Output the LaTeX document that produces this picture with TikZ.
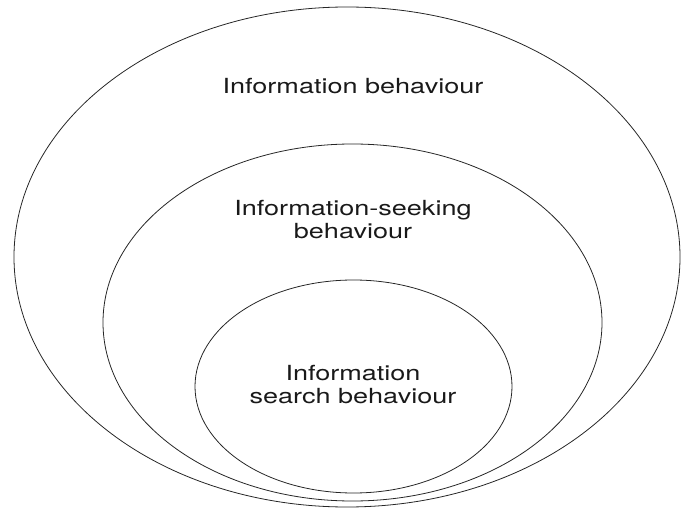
\documentclass[tikz,border=0pt]{standalone}
\usepackage{fontspec}
\setmainfont[FakeStretch=1.3]{TeX Gyre Heros}
\usetikzlibrary{shapes.geometric}
\tikzset{
  ring/.style={draw=black!85, line width=0.8pt, ellipse, inner sep=0pt},
  label/.style={align=center, font=\fontsize{20.8}{23}\selectfont, text=black!90}
}
\begin{document}
\begin{tikzpicture}[x=1pt,y=-1pt]
      \useasboundingbox (0,0) rectangle (681,508);
      \node[ring, minimum width=666pt, minimum height=500pt] (behaviour) at (347,257) {};
      \node[ring, minimum width=499pt, minimum height=357pt] (seeking) at (352.5,322.5) {};
      \node[ring, minimum width=317pt, minimum height=213pt] (search) at (353.5,386.5) {};
      \node[label] (behaviourtext) at (353,86) {Information behaviour};
      \node[label] (seekingtext) at (353,220) {Information-seeking\\behaviour};
      \node[label] (searchtext) at (353,385) {Information\\search behaviour};
    \end{tikzpicture}
\end{document}
